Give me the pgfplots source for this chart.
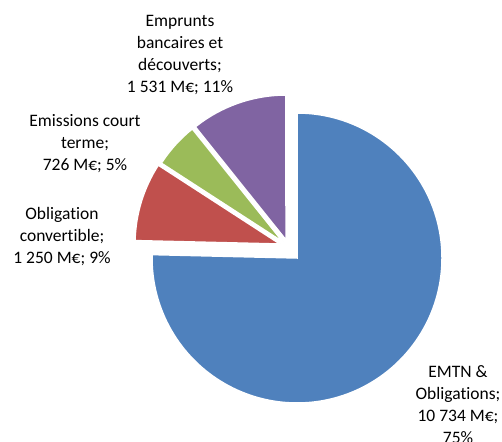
\documentclass[border=0pt]{standalone}
\usepackage{pgfplots}
\pgfplotsset{compat=1.18}
\usepackage{fontspec}
\setmainfont{Carlito}[Ligatures=NoCommon]
\definecolor{cblue}{HTML}{4F81BD}
\definecolor{cred}{HTML}{C0504D}
\definecolor{cgreen}{HTML}{9BBB59}
\definecolor{cpurple}{HTML}{8064A2}
% values (M€)
\def\vA{10734}% EMTN & Obligations
\def\vB{1250}% Obligation convertible
\def\vC{726}% Emissions court terme
\def\vD{1531}% Emprunts bancaires et découverts
\pgfmathsetmacro{\total}{\vA+\vB+\vC+\vD}
\pgfmathsetmacro{\aA}{90}
\pgfmathsetmacro{\aB}{\aA-360*(\vA/\total)}
\pgfmathsetmacro{\aC}{\aB-360*(\vB/\total)}
\pgfmathsetmacro{\aD}{\aC-360*(\vC/\total)}
\pgfmathsetmacro{\aE}{\aD-360*(\vD/\total)}
\def\R{145}
\begin{document}
\begin{tikzpicture}
\begin{axis}[
  scale only axis, width=502pt, height=441pt,
  xmin=0, xmax=502, ymin=0, ymax=441,
  hide axis, clip=false,
]
\fill[cblue, draw=white, line width=1.5pt] (axis cs:297,183) -- ++(\aA:\R pt) arc[start angle=\aA, end angle=\aB, radius=\R pt] -- cycle;
\fill[cred, draw=white, line width=1.5pt] (axis cs:280,197) -- ++(\aB:\R pt) arc[start angle=\aB, end angle=\aC, radius=\R pt] -- cycle;
\fill[cgreen, draw=white, line width=1.5pt] (axis cs:283,199) -- ++(\aC:\R pt) arc[start angle=\aC, end angle=\aD, radius=\R pt] -- cycle;
\fill[cpurple, draw=white, line width=1.5pt] (axis cs:286,201) -- ++(\aD:\R pt) arc[start angle=\aD, end angle=\aE, radius=\R pt] -- cycle;
\begin{scope}[every node/.style={align=center, font=\fontsize{17.5}{22}\selectfont, text=black}]
\node at (axis cs:180,386) {Emprunts\\bancaires et\\découverts;\\1 531 M€; 11\%};
\node at (axis cs:85,297.5) {Emissions court\\terme;\\726 M€; 5\%};
\node at (axis cs:62,204) {Obligation\\convertible;\\1 250 M€; 9\%};
\node at (axis cs:458,36.5) {EMTN \&\\Obligations;\\10 734 M€;\\75\%};
\end{scope}
\end{axis}
\pgfresetboundingbox
\useasboundingbox (0,0) rectangle (502pt,441pt);
\end{tikzpicture}
\end{document}
